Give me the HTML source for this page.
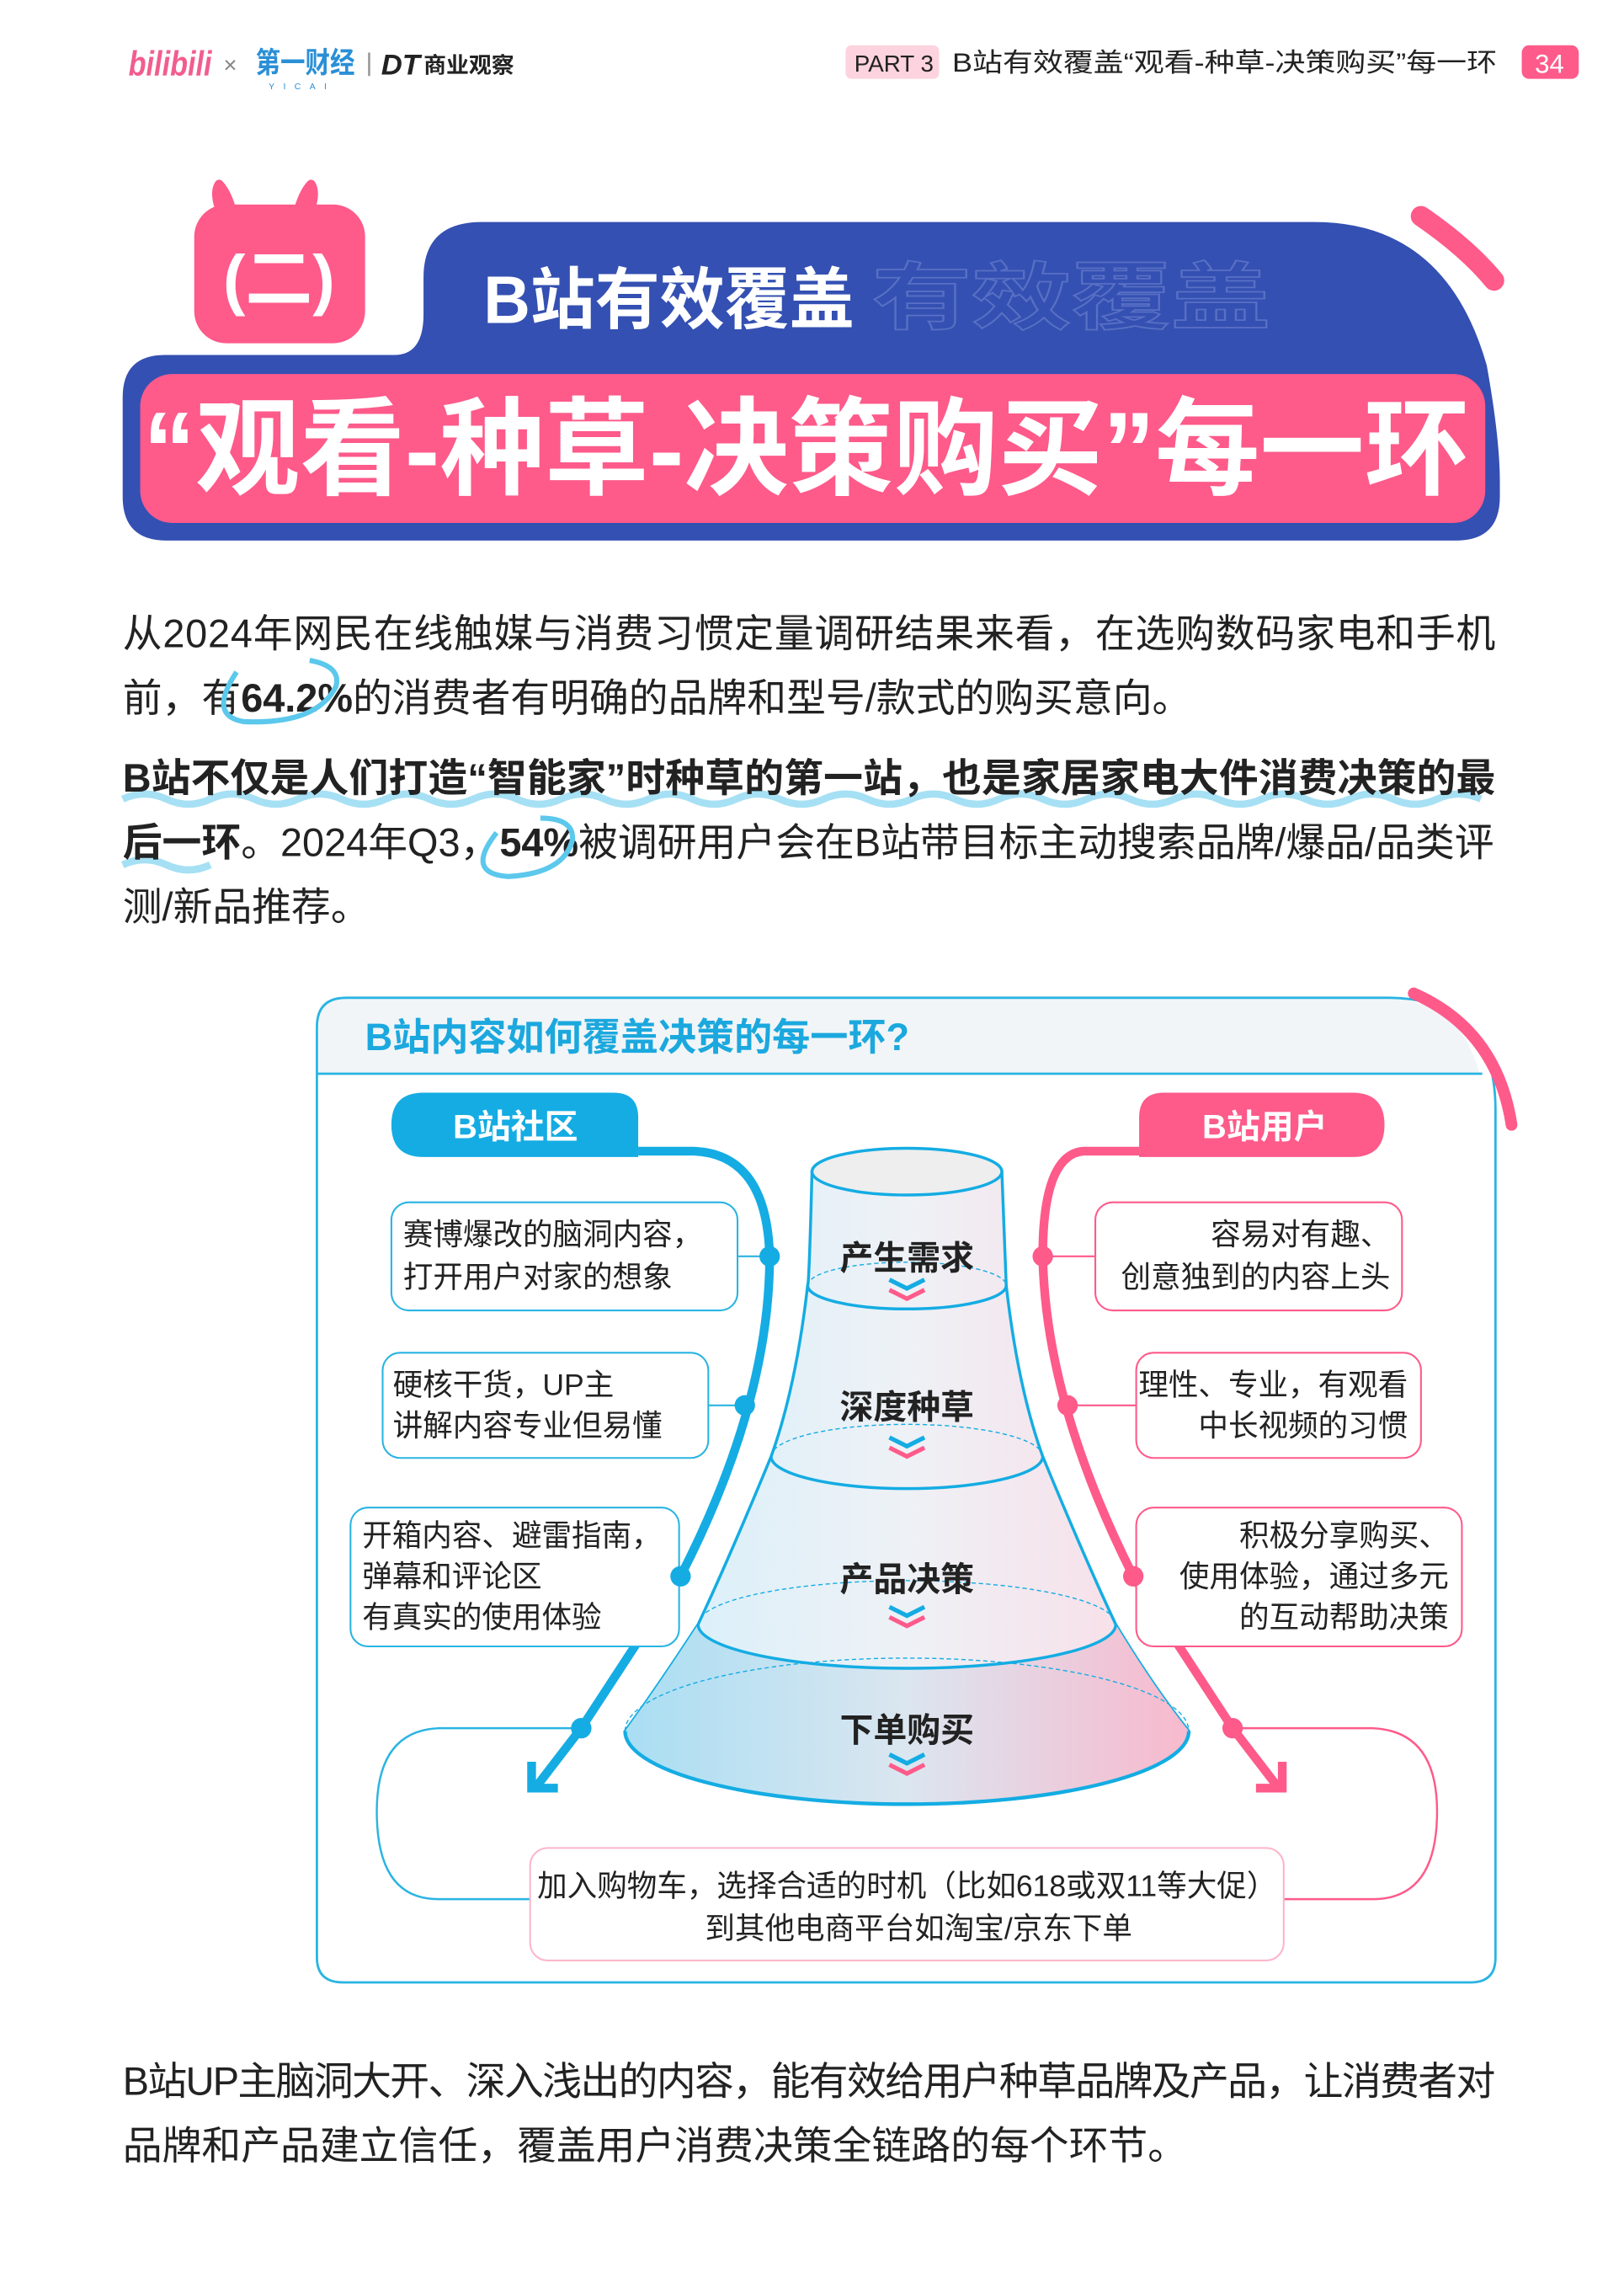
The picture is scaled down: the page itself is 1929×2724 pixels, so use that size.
<!DOCTYPE html>
<html><head><meta charset="utf-8"><style>
html,body{margin:0;padding:0;background:#fff}
svg{display:block}
text{font-family:"Liberation Sans","Noto Sans CJK SC",sans-serif}
</style></head><body>
<svg width="1929" height="2724" viewBox="0 0 1112 1570.3" preserveAspectRatio="none" xmlns="http://www.w3.org/2000/svg">
<defs>
<linearGradient id="fun" x1="0" x2="1" y1="0" y2="0">
<stop offset="0" stop-color="#a9def3"/><stop offset="0.5" stop-color="#dbe6f0"/><stop offset="1" stop-color="#f8b9cd"/>
</linearGradient>
<linearGradient id="fun2" x1="0" x2="1">
<stop offset="0" stop-color="#d6f0fa"/><stop offset="0.5" stop-color="#eef1f6"/><stop offset="1" stop-color="#fbdbe5"/>
</linearGradient>
</defs>
<!-- header -->
<text x="88" y="52" font-size="24" font-weight="bold" fill="#f25d8e" font-style="italic" textLength="57" lengthAdjust="spacingAndGlyphs">bilibili</text>
<text x="153" y="50" font-size="16" fill="#888">×</text>
<text x="175" y="50" font-size="20" font-weight="bold" fill="#2a8fd6" textLength="68" lengthAdjust="spacingAndGlyphs">第一财经</text>
<text x="184" y="61" font-size="6" fill="#2a8fd6" letter-spacing="6">YICAI</text>
<rect x="252" y="36" width="1.5" height="16" fill="#999"/>
<text x="261" y="51" font-size="20" font-weight="bold" font-style="italic" fill="#222">DT</text>
<text x="290" y="50" font-size="15" font-weight="bold" fill="#222" textLength="62" lengthAdjust="spacingAndGlyphs">商业观察</text>
<rect x="579" y="31" width="64" height="23" rx="4" fill="#fcd3df"/>
<text x="585" y="49" font-size="16" fill="#222">PART 3</text>
<text x="652" y="49" font-size="18" fill="#222" textLength="373" lengthAdjust="spacingAndGlyphs">B站有效覆盖“观看-种草-决策购买”每一环</text>
<rect x="1042" y="31" width="39" height="23" rx="5" fill="#fe5a8a"/>
<text x="1061" y="50" font-size="18" fill="#fff" text-anchor="middle">34</text>

<!-- title block -->
<path d="M330 152 H900 Q990 152 1018 250 Q1027 300 1027 330 V340 Q1027 370 997 370 H114 Q84 370 84 340 V272 Q84 243 113 243 H270 Q290 243 290 215 V190 Q290 152 330 152 Z" fill="#3450b2"/>
<rect x="96" y="256" width="921" height="102" rx="22" fill="#fe5a8a"/>
<path d="M973 148 Q1005 170 1023 192" stroke="#fe5a8a" stroke-width="14" stroke-linecap="round" fill="none"/>
<path d="M151 145 Q146 132 150 126 Q156 132 160 148 Z M203 148 Q207 132 213 126 Q217 132 212 145 Z" fill="#fe5a8a" stroke="#fe5a8a" stroke-width="6" stroke-linejoin="round"/>
<rect x="133" y="140" width="117" height="95" rx="22" fill="#fe5a8a"/>
<text x="191" y="207" font-size="46" font-weight="bold" fill="#fff" text-anchor="middle">(二)</text>
<text x="331" y="221" font-size="46" font-weight="bold" fill="#fff" textLength="254" lengthAdjust="spacingAndGlyphs">B站有效覆盖</text>
<text x="597" y="221" font-size="50" font-weight="bold" fill="none" stroke="#5870c4" stroke-width="1" textLength="273" lengthAdjust="spacingAndGlyphs">有效覆盖</text>
<text x="98" y="333" font-size="73" font-weight="bold" fill="#fff" textLength="908" lengthAdjust="spacingAndGlyphs">“观看-种草-决策购买”每一环</text>

<!-- paragraphs -->
<g font-size="27" fill="#222">
<text x="84" y="443" textLength="940">从2024年网民在线触媒与消费习惯定量调研结果来看，在选购数码家电和手机</text>
<text x="84" y="487">前，有<tspan font-weight="bold">64.2%</tspan>的消费者有明确的品牌和型号/款式的购买意向。</text>
<path d="M84 547 q15 -7 30 0 t30 0 t30 0 t30 0 t30 0 t30 0 t30 0 t30 0 t30 0 t30 0 t30 0 t30 0 t30 0 t30 0 t30 0 t30 0 t30 0 t30 0 t30 0 t30 0 t30 0 t30 0 t30 0 t30 0 t30 0 t30 0 t30 0 t30 0 t30 0 t30 0 t30 0" stroke="#a6e0f4" stroke-width="5" fill="none"/>
<path d="M84 592 q15 -7 30 0 t30 0" stroke="#a6e0f4" stroke-width="5" fill="none"/>
<text x="84" y="542" font-weight="bold" textLength="940">B站不仅是人们打造“智能家”时种草的第一站，也是家居家电大件消费决策的最</text>
<text x="84" y="586"><tspan font-weight="bold">后一环</tspan>。2024年Q3，<tspan font-weight="bold">54%</tspan>被调研用户会在B站带目标主动搜索品牌/爆品/品类评</text>
<text x="84" y="630">测/新品推荐。</text>
<text x="84" y="1434" textLength="940">B站UP主脑洞大开、深入浅出的内容，能有效给用户种草品牌及产品，让消费者对</text>
<text x="84" y="1478">品牌和产品建立信任，覆盖用户消费决策全链路的每个环节。</text>
</g>
<path d="M162 460 Q142 490 167 494 Q217 496 230 470 Q234 456 212 452" stroke="#5bc8ec" stroke-width="3.5" fill="none"/>
<path d="M340 570 Q318 598 348 600 Q386 598 392 575 Q393 560 370 560" stroke="#5bc8ec" stroke-width="3.5" fill="none"/>

<!-- diagram frame -->
<path d="M237 683 H950 Q1024 683 1024 760 V1340 Q1024 1357 1007 1357 H235 Q217 1357 217 1340 V703 Q217 683 237 683 Z" fill="#fff" stroke="#2ab4e2" stroke-width="1.6"/>
<path d="M218 735 V703 Q218 684 237 684 H950 Q1000 684 1013 735 Z" fill="#f1f5f7"/>
<line x1="217" y1="735" x2="1015" y2="735" stroke="#2ab4e2" stroke-width="1.6"/>
<path d="M968 680 Q1025 705 1035 770" stroke="#fe5a8a" stroke-width="8" stroke-linecap="round" fill="none"/>
<text x="250" y="719" font-size="26" font-weight="bold" fill="#1ba8de">B站内容如何覆盖决策的每一环?</text>

<!-- pills -->
<path d="M290 748 H420 Q437 748 437 765 V792 H290 Q268 792 268 770 Q268 748 290 748 Z" fill="#14ace3"/>
<text x="353" y="779" font-size="23" font-weight="bold" fill="#fff" text-anchor="middle">B站社区</text>
<path d="M797 748 H926 Q948 748 948 770 Q948 792 926 792 H780 V765 Q780 748 797 748 Z" fill="#fe5a8a"/>
<text x="866" y="779" font-size="23" font-weight="bold" fill="#fff" text-anchor="middle">B站用户</text>

<!-- side curves -->
<path d="M437 788 H475 Q525 790 527 860 Q527 960 466 1079 L398 1183 L368 1222" stroke="#14ace3" stroke-width="6" fill="none"/>
<path d="M364 1206 V1224 H382" stroke="#14ace3" stroke-width="6" fill="none"/>
<path d="M780 788 H742 Q714 790 714 860 Q716 960 776 1079 L844 1183 L874 1222" stroke="#fe5a8a" stroke-width="6" fill="none"/>
<path d="M878 1206 V1224 H860" stroke="#fe5a8a" stroke-width="6" fill="none"/>

<!-- loop lines -->
<path d="M398 1183 H300 Q258 1185 258 1240 Q258 1300 300 1300 H363" stroke="#2ab4e2" stroke-width="1.4" fill="none"/>
<path d="M844 1183 H940 Q984 1185 984 1240 Q984 1300 940 1300 H879" stroke="#fe5a8a" stroke-width="1.4" fill="none"/>

<!-- left boxes -->
<g fill="#fff" stroke="#2ab4e2" stroke-width="1.2">
<rect x="268" y="823" width="237" height="74" rx="12"/>
<rect x="262" y="926" width="223" height="72" rx="12"/>
<rect x="240" y="1032" width="225" height="95" rx="12"/>
<line x1="505" y1="860" x2="527" y2="860"/><line x1="485" y1="962" x2="510" y2="962"/>
</g>
<g fill="#fff" stroke="#fe5a8a" stroke-width="1.2">
<rect x="750" y="823" width="210" height="74" rx="12"/>
<rect x="778" y="926" width="195" height="72" rx="12"/>
<rect x="778" y="1032" width="223" height="95" rx="12"/>
<line x1="714" y1="860" x2="750" y2="860"/><line x1="731" y1="962" x2="778" y2="962"/>
</g>
<g fill="#14ace3"><circle cx="527" cy="860" r="7"/><circle cx="510" cy="962" r="7"/><circle cx="466" cy="1079" r="7"/><circle cx="398" cy="1183" r="7"/></g>
<g fill="#fe5a8a"><circle cx="714" cy="860" r="7"/><circle cx="731" cy="962" r="7"/><circle cx="776" cy="1079" r="7"/><circle cx="844" cy="1183" r="7"/></g>

<!-- funnel -->
<path d="M556 802 Q554 880 553 880 Q545 950 528 997 Q500 1065 478 1112 Q450 1155 428 1185 A193 50 0 0 0 814 1185 Q790 1155 764 1112 Q742 1065 714 997 Q697 950 689 880 L686 802 Z" fill="url(#fun2)" stroke="#14ace3" stroke-width="2"/>
<path d="M478 1112 Q450 1155 428 1185 A193 50 0 0 0 814 1185 Q790 1155 764 1112 A143 30 0 0 1 478 1112 Z" fill="url(#fun)"/>
<path d="M428 1185 A193 50 0 0 0 814 1185" fill="none" stroke="#14ace3" stroke-width="2.5"/>
<g fill="none" stroke="#14ace3" stroke-width="2">
<path d="M553 880 A68 16 0 0 0 689 880"/>
<path d="M528 997 A93 22 0 0 0 714 997"/>
<path d="M478 1112 A143 30 0 0 0 764 1112"/>
</g>
<g fill="none" stroke="#14ace3" stroke-width="0.8" stroke-dasharray="3 2">
<path d="M553 880 A68 16 0 0 1 689 880"/>
<path d="M528 997 A93 22 0 0 1 714 997"/>
<path d="M478 1112 A143 30 0 0 1 764 1112"/>
<path d="M428 1185 A193 50 0 0 1 814 1185"/>
</g>
<ellipse cx="621" cy="802" rx="65" ry="16" fill="#eeeeee" stroke="#14ace3" stroke-width="2"/>
<g font-size="23" font-weight="bold" fill="#222" text-anchor="middle">
<text x="621" y="869">产生需求</text><text x="621" y="971">深度种草</text><text x="621" y="1089">产品决策</text><text x="621" y="1192">下单购买</text>
</g>
<g fill="none" stroke-width="3">
<path d="M609 876 l12 6 l12 -6" stroke="#14ace3"/><path d="M609 883 l12 6 l12 -6" stroke="#fe5a8a"/>
<path d="M609 984 l12 6 l12 -6" stroke="#14ace3"/><path d="M609 991 l12 6 l12 -6" stroke="#fe5a8a"/>
<path d="M609 1100 l12 6 l12 -6" stroke="#14ace3"/><path d="M609 1107 l12 6 l12 -6" stroke="#fe5a8a"/>
<path d="M609 1201 l12 6 l12 -6" stroke="#14ace3"/><path d="M609 1208 l12 6 l12 -6" stroke="#fe5a8a"/>
</g>

<!-- box texts -->
<g font-size="20.5" fill="#222">
<text x="276" y="852">赛博爆改的脑洞内容，</text><text x="276" y="881">打开用户对家的想象</text>
<text x="269" y="955">硬核干货，UP主</text><text x="269" y="983">讲解内容专业但易懂</text>
<text x="248" y="1058">开箱内容、避雷指南，</text><text x="248" y="1086">弹幕和评论区</text><text x="248" y="1114">有真实的使用体验</text>
<g text-anchor="end">
<text x="952" y="852">容易对有趣、</text><text x="952" y="881">创意独到的内容上头</text>
<text x="964" y="955">理性、专业，有观看</text><text x="964" y="983">中长视频的习惯</text>
<text x="992" y="1058">积极分享购买、</text><text x="992" y="1086">使用体验，通过多元</text><text x="992" y="1114">的互动帮助决策</text>
</g>
</g>
<rect x="363" y="1265" width="516" height="77" rx="12" fill="#fff" stroke="#fcb6ca" stroke-width="1.2"/>
<g font-size="20.5" fill="#222" text-anchor="middle">
<text x="621" y="1298">加入购物车，选择合适的时机（比如618或双11等大促）</text>
<text x="629" y="1327">到其他电商平台如淘宝/京东下单</text>
</g>
</svg>
</body></html>
